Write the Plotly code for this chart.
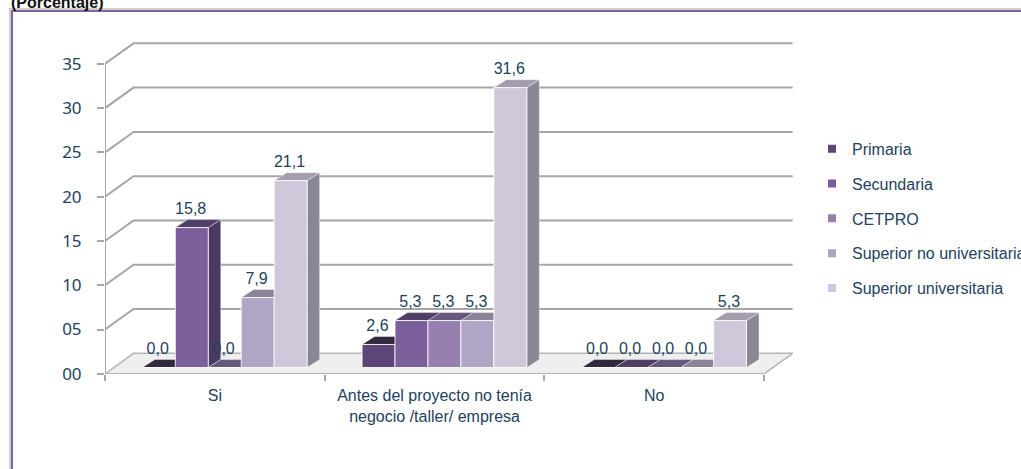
import plotly.graph_objects as go

# ---------------- data ----------------
CATEGORIES = ["Si", "Antes del proyecto no tenía<br>negocio /taller/ empresa", "No"]
SERIES = ["Primaria", "Secundaria", "CETPRO", "Superior no universitaria", "Superior universitaria"]
PRIMARIA = [0.0, 2.6, 0.0]
SECUNDARIA = [15.8, 5.3, 0.0]
CETPRO = [0.0, 5.3, 0.0]
SUP_NO_UNIV = [7.9, 5.3, 0.0]
SUP_UNIV = [21.1, 31.6, 5.3]
Y_TICKS = [0, 5, 10, 15, 20, 25, 30, 35]
Y_TICK_LABELS = ["00", "05", "10", "15", "20", "25", "30", "35"]
TITLE = "(Porcentaje)"

VALUES = [PRIMARIA, SECUNDARIA, CETPRO, SUP_NO_UNIV, SUP_UNIV]

# ---------------- styles ----------------
FRONT = ["#5b4677", "#7b5f9b", "#9580b0", "#b1a5c5", "#cec8da"]
TOP = ["#33293f", "#4f3f66", "#66577c", "#8a8397", "#a39dae"]
SIDE = ["#3a2e4c", "#4a3961", "#5f5175", "#7a7387", "#8b8694"]
TEXT_COL = "#243f60"
GRID_COL = "#a6a6a6"
FONT = "Liberation Sans, Arial, sans-serif"

W, H = 1021, 469
PX_L, PX_R, PX_T, PX_B = 105, 800, 30, 374.5
X_RANGE = [-0.5, 2.6634]
Y_RANGE = [-0.733, 38.106]

BAR_W = 0.15
GROUP_SHIFT = 0.045
BAR_DX, BAR_DY = 0.0569, 0.90      # bar depth (x units, y units)
WALL_DX = 0.13                      # wall depth in x units
FRONT_OFF, BACK_OFF = -0.71, 1.6    # front / back offsets of grid levels

fig = go.Figure()

# floor
fig.add_trace(go.Scatter(
    x=[-0.5, 2.5, 2.5 + WALL_DX, -0.5 + WALL_DX, -0.5],
    y=[FRONT_OFF, FRONT_OFF, BACK_OFF, BACK_OFF, FRONT_OFF],
    mode="lines", fill="toself", fillcolor="#efefef",
    line=dict(color="#b5b5b5", width=1.5), hoverinfo="skip", showlegend=False))

# grid lines (side wall + back wall)
gx, gy = [], []
for t in Y_TICKS[1:]:
    gx += [-0.5, -0.5 + WALL_DX, 2.5 + WALL_DX, None]
    gy += [t + FRONT_OFF, t + BACK_OFF, t + BACK_OFF, None]
fig.add_trace(go.Scatter(x=gx, y=gy, mode="lines",
                         line=dict(color=GRID_COL, width=2),
                         hoverinfo="skip", showlegend=False))
# front vertical axis line
fig.add_trace(go.Scatter(x=[-0.5, -0.5], y=[Y_TICKS[0] + FRONT_OFF, Y_TICKS[-1] + FRONT_OFF],
                         mode="lines", line=dict(color=GRID_COL, width=2),
                         hoverinfo="skip", showlegend=False))

# 3D faces (side + top), drawn left to right
for i in range(len(CATEGORIES)):
    for k in range(len(SERIES)):
        v = VALUES[k][i]
        x0 = i - 0.375 + GROUP_SHIFT + k * BAR_W
        x1 = x0 + BAR_W
        fig.add_trace(go.Scatter(
            x=[x1, x1, x1 + BAR_DX, x1 + BAR_DX, x1],
            y=[0, v, v + BAR_DY, BAR_DY, 0],
            mode="lines", fill="toself", fillcolor=SIDE[k],
            line=dict(color="rgba(255,255,255,0.5)", width=0.8),
            hoverinfo="skip", showlegend=False))
        fig.add_trace(go.Scatter(
            x=[x0, x0 + BAR_DX, x1 + BAR_DX, x1, x0],
            y=[v, v + BAR_DY, v + BAR_DY, v, v],
            mode="lines", fill="toself", fillcolor=TOP[k],
            line=dict(color="rgba(255,255,255,0.5)", width=0.8),
            hoverinfo="skip", showlegend=False))

# front faces as real bars on an overlaid axis pair (drawn above the faces)
for k, name in enumerate(SERIES):
    fig.add_trace(go.Bar(
        x=[0, 1, 2], y=VALUES[k], name=name, width=BAR_W,
        offset=-0.375 + GROUP_SHIFT + k * BAR_W,
        marker=dict(color=FRONT[k], line=dict(color="rgba(255,255,255,0.85)", width=1)),
        xaxis="x2", yaxis="y2", showlegend=False, hoverinfo="skip"))

# value labels
lx, ly, lt = [], [], []
for i in range(len(CATEGORIES)):
    for k in range(len(SERIES)):
        v = VALUES[k][i]
        lx.append(i - 0.375 + GROUP_SHIFT + k * BAR_W + BAR_W / 2 - 0.005)
        ly.append(v + 2.03)
        lt.append(f"{v:.1f}".replace(".", ","))
fig.add_trace(go.Scatter(x=lx, y=ly, text=lt, mode="text",
                         textfont=dict(family=FONT, size=16, color=TEXT_COL),
                         xaxis="x2", yaxis="y2", hoverinfo="skip", showlegend=False))

# legend entries
for k, name in enumerate(SERIES):
    fig.add_trace(go.Scatter(x=[None], y=[None], mode="markers", name=name,
                             legendgroup=name,
                             marker=dict(symbol="square", size=8, color=FRONT[k])))

ax_common = dict(showgrid=False, zeroline=False)
fig.update_layout(
    width=W, height=H,
    margin=dict(l=PX_L, r=W - PX_R, t=PX_T, b=H - PX_B, autoexpand=False),
    paper_bgcolor="white", plot_bgcolor="white",
    barmode="overlay",
    xaxis=dict(range=X_RANGE, tickmode="array", tickvals=[0, 1, 2], ticktext=CATEGORIES,
               ticks="", ticklabelstandoff=10,
               tickfont=dict(family=FONT, size=16, color=TEXT_COL),
               minor=dict(tickmode="array", tickvals=[-0.5, 0.5, 1.5, 2.5], ticks="outside",
                          ticklen=6, tickwidth=1.5, tickcolor=GRID_COL),
               showline=False, **ax_common),
    yaxis=dict(range=Y_RANGE, tickmode="array",
               tickvals=[t + FRONT_OFF for t in Y_TICKS], ticktext=Y_TICK_LABELS,
               ticks="outside", ticklen=7, tickwidth=1.5, tickcolor=GRID_COL,
               ticklabelstandoff=12,
               tickfont=dict(family="Noto Sans, sans-serif", size=17, color=TEXT_COL),
               showline=False, **ax_common),
    xaxis2=dict(range=X_RANGE, overlaying="x", anchor="y2", visible=False, **ax_common),
    yaxis2=dict(range=Y_RANGE, overlaying="y", anchor="x2", visible=False, **ax_common),
    legend=dict(x=(812 - PX_L) / (PX_R - PX_L), y=1 - (132 - PX_T) / (PX_B - PX_T),
                xanchor="left", yanchor="top",
                font=dict(family=FONT, size=16, color=TEXT_COL),
                tracegroupgap=11, bgcolor="rgba(0,0,0,0)"),
    annotations=[dict(text="<b>" + TITLE + "</b>", xref="paper", yref="paper",
                      x=(9 - PX_L) / (PX_R - PX_L), y=1 + (PX_T - 2) / (PX_B - PX_T),
                      xanchor="left", yanchor="middle", showarrow=False,
                      font=dict(family=FONT, size=16, color="#111111"))],
    shapes=[
        dict(type="rect", xref="paper", yref="paper", layer="below",
             x0=(10 - PX_L) / (PX_R - PX_L), x1=1.6,
             y0=-0.5, y1=1 + (PX_T - 9) / (PX_B - PX_T),
             line=dict(color="#d0d0d0", width=2)),
        dict(type="rect", xref="paper", yref="paper", layer="below",
             x0=(12 - PX_L) / (PX_R - PX_L), x1=1.6,
             y0=-0.5, y1=1 + (PX_T - 11) / (PX_B - PX_T),
             line=dict(color="#8064a2", width=2)),
    ],
)

fig.write_html("out.html")
